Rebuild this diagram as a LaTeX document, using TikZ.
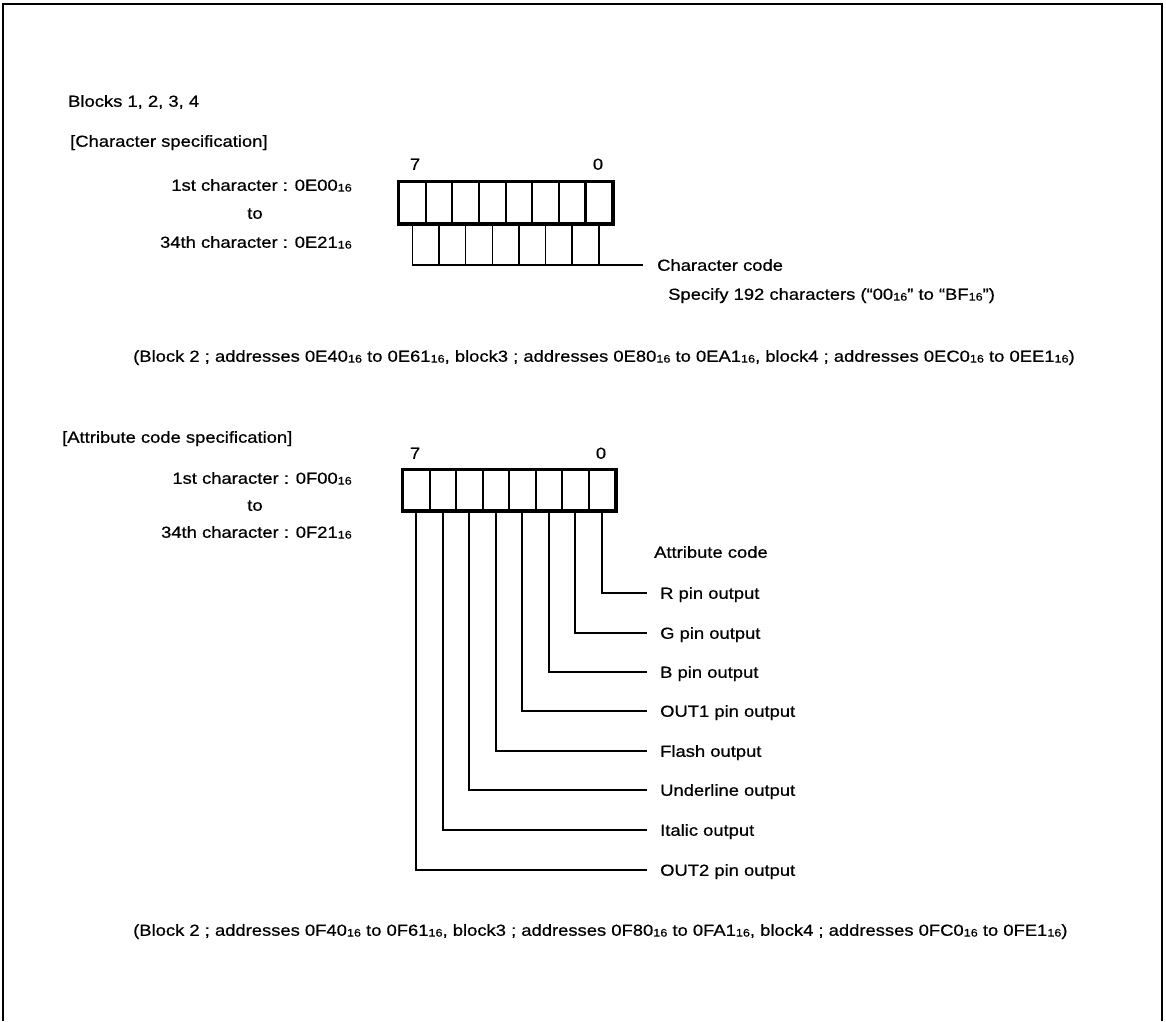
\documentclass[tikz,border=0pt]{standalone}
\usepackage{fontspec}
\setmainfont{Liberation Sans}[FakeStretch=1.15,FakeBold=0.6]
\newcommand\hs[1]{\raisebox{-0.8pt}{\fontsize{11}{11}\selectfont #1}}
\begin{document}
\begin{tikzpicture}[x=1pt,y=-1pt,
  txt/.style={inner sep=0pt, text height=11.5pt, text depth=0pt, font=\fontsize{16}{19}\selectfont},
  cellA/.style={draw, line width=2.2pt, minimum width=26.625pt, minimum height=41pt, inner sep=0pt, anchor=north west},
  cellB/.style={draw, line width=2.2pt, minimum width=26.5pt, minimum height=40pt, inner sep=0pt, anchor=north west},
  outer/.style={line width=3pt},
  comb/.style={line width=1.5pt},
  conn/.style={line width=1.8pt},
  frame/.style={line width=2.2pt}]
\useasboundingbox (0,0) rectangle (1166,1021);
% frame (open at bottom)
\draw[frame] (3,1021) -- (3,4) -- (1162,4) -- (1162,1021);

% headings
\node[txt, anchor=west] (blocks) at (68,101) {Blocks 1, 2, 3, 4};
\node[txt, anchor=west] (charspec) at (70,141) {[Character specification]};

% register 1
\foreach \k in {0,...,7} {
  \pgfmathtruncatemacro\b{7-\k}
  \node[cellA] (a\b) at ({398+26.625*\k},181) {};
}
\draw[outer] (a7.north west) rectangle (a0.south east);
\node[txt] (a7lbl) at (415,164) {7};
\node[txt] (a0lbl) at (598,164) {0};

\node[txt, anchor=east] (a1st) at (352,185) {1st character : 0E00\hs{16}};
\node[txt] (ato) at (255,213) {to};
\node[txt, anchor=east] (a34) at (352,242) {34th character : 0E21\hs{16}};

\node[txt, anchor=west] (cc) at (657,265) {Character code};
\node[txt, anchor=west] (spec) at (668,294) {Specify 192 characters (“00\hs{16}” to “BF\hs{16}”)};
\coordinate (cce) at ([xshift=-14pt]cc.west);
\draw[comb] (a7.south) |- (cce);
\foreach \b in {6,...,0} {
  \draw[comb] (a\b.south) -- (a\b.south |- cce);
}

\node[txt, anchor=west] (blkA) at (133,356) {(Block 2 ; addresses 0E40\hs{16} to 0E61\hs{16}, block3 ; addresses 0E80\hs{16} to 0EA1\hs{16}, block4 ; addresses 0EC0\hs{16} to 0EE1\hs{16})};

% register 2
\node[txt, anchor=west] (attrspec) at (62,437) {[Attribute code specification]};
\foreach \k in {0,...,7} {
  \pgfmathtruncatemacro\b{7-\k}
  \node[cellB] (d\b) at ({402+26.5*\k},469) {};
}
\draw[outer] (d7.north west) rectangle (d0.south east);
\node[txt] (d7lbl) at (415,453) {7};
\node[txt] (d0lbl) at (601,453) {0};

\node[txt, anchor=east] (d1st) at (352,478) {1st character : 0F00\hs{16}};
\node[txt] (dto) at (255,505) {to};
\node[txt, anchor=east] (d34) at (352,532) {34th character : 0F21\hs{16}};

\node[txt, anchor=west] (attr) at (654,552) {Attribute code};

\foreach \b/\t/\y in {0/R pin output/593, 1/G pin output/633, 2/B pin output/672,
    3/OUT1 pin output/711, 4/Flash output/751, 5/Underline output/790,
    6/Italic output/830, 7/OUT2 pin output/870} {
  \node[txt, anchor=west] (p\b) at (660,\y) {\t};
  \draw[conn] (d\b.south) |- ([xshift=-13pt]p\b.west);
}

\node[txt, anchor=west] (blkB) at (133,930) {(Block 2 ; addresses 0F40\hs{16} to 0F61\hs{16}, block3 ; addresses 0F80\hs{16} to 0FA1\hs{16}, block4 ; addresses 0FC0\hs{16} to 0FE1\hs{16})};
\end{tikzpicture}
\end{document}
